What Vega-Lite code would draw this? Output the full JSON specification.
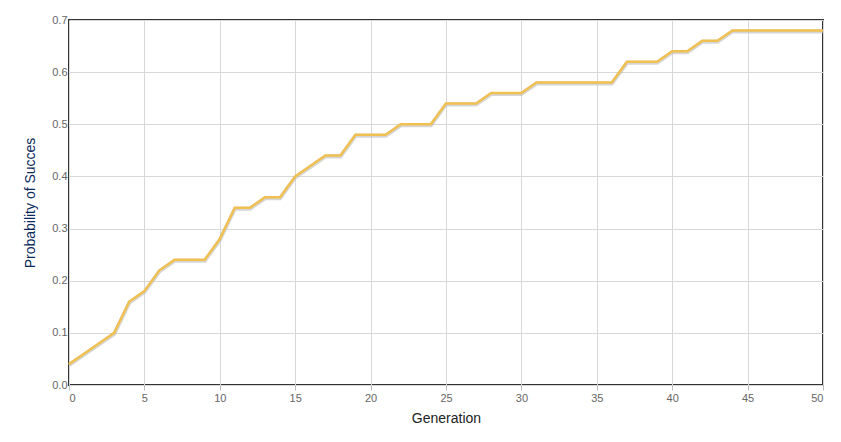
{"$schema":"https://vega.github.io/schema/vega-lite/v6.json",
"autosize":"none","width":754,"height":365,
"padding":{"left":69,"top":20,"right":18,"bottom":57},
"background":"white",
"config":{"view":{"stroke":"#333333","strokeWidth":2},
"axis":{"gridColor":"#d8d8d8","labelColor":"#666666","labelFont":"Arial","labelFontSize":11,"domain":false,"tickColor":"#bbbbbb","titleFont":"Arial","titleFontSize":14,"titleFontWeight":"normal"}},
"data":{"values":[
{"g":0,"p":0.04},{"g":1,"p":0.06},{"g":2,"p":0.08},{"g":3,"p":0.10},{"g":4,"p":0.16},{"g":5,"p":0.18},{"g":6,"p":0.22},{"g":7,"p":0.24},{"g":8,"p":0.24},{"g":9,"p":0.24},{"g":10,"p":0.28},{"g":11,"p":0.34},{"g":12,"p":0.34},{"g":13,"p":0.36},{"g":14,"p":0.36},{"g":15,"p":0.40},{"g":16,"p":0.42},{"g":17,"p":0.44},{"g":18,"p":0.44},{"g":19,"p":0.48},{"g":20,"p":0.48},{"g":21,"p":0.48},{"g":22,"p":0.50},{"g":23,"p":0.50},{"g":24,"p":0.50},{"g":25,"p":0.54},{"g":26,"p":0.54},{"g":27,"p":0.54},{"g":28,"p":0.56},{"g":29,"p":0.56},{"g":30,"p":0.56},{"g":31,"p":0.58},{"g":32,"p":0.58},{"g":33,"p":0.58},{"g":34,"p":0.58},{"g":35,"p":0.58},{"g":36,"p":0.58},{"g":37,"p":0.62},{"g":38,"p":0.62},{"g":39,"p":0.62},{"g":40,"p":0.64},{"g":41,"p":0.64},{"g":42,"p":0.66},{"g":43,"p":0.66},{"g":44,"p":0.68},{"g":45,"p":0.68},{"g":46,"p":0.68},{"g":47,"p":0.68},{"g":48,"p":0.68},{"g":49,"p":0.68},{"g":50,"p":0.68}]},
"layer":[
{"mark":{"type":"line","color":"#bbbbbb","strokeWidth":4,"opacity":0.6,"yOffset":1},
"encoding":{"x":{"field":"g","type":"quantitative","scale":{"domain":[0,50],"nice":false},
"axis":{"values":[0,5,10,15,20,25,30,35,40,45,50],"title":"Generation","titleColor":"#222222","titlePadding":8}},
"y":{"field":"p","type":"quantitative","scale":{"domain":[0,0.7],"nice":false},
"axis":{"values":[0,0.1,0.2,0.3,0.4,0.5,0.6,0.7],"format":".1f","ticks":false,"title":"Probability of Succes","titleColor":"#0b2a5b","titlePadding":14}}}},
{"mark":{"type":"line","color":"#f0c050","strokeWidth":2.5},
"encoding":{"x":{"field":"g","type":"quantitative"},"y":{"field":"p","type":"quantitative"}}}
]}
